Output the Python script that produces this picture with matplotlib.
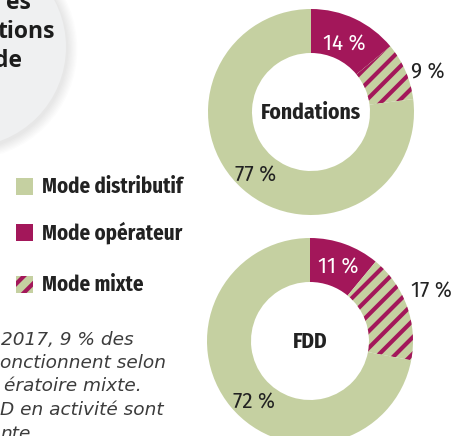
import matplotlib
matplotlib.use('Agg')
import matplotlib.pyplot as plt
from matplotlib.patches import Circle, Rectangle

W, H = 461, 436

# data
modes = ['Mode opérateur', 'Mode mixte', 'Mode distributif']
fondations = [14, 9, 77]
fdd = [11, 17, 72]
donut_names = ['Fondations', 'FDD']
title_bits = ['es', 'tions', 'de']
note_lines = ['2017, 9 % des', 'onctionnent selon', 'ératoire mixte.',
              'D en activité sont', 'nte.']

GREEN = '#c5d0a1'
PURPLE = '#a3175a'
DARK = '#222222'
COND = ['Fira Sans Condensed', 'DejaVu Sans']
SANS = ['Open Sans', 'DejaVu Sans']

plt.rcParams['hatch.linewidth'] = 3.0

fig = plt.figure(figsize=(W / 100, H / 100), dpi=100)
ax = fig.add_axes([0, 0, 1, 1])


def Y(py):
    return H - py


# grey title circle with soft shadow
cx, cy, cr = -34, Y(47), 100
for i in range(8, 0, -1):
    ax.add_patch(Circle((cx + 1, cy - 2), cr + i * 1.3, color='#000000',
                        alpha=0.012, lw=0, zorder=1))
ax.add_patch(Circle((cx, cy), cr, color='#eff0f1', lw=0, zorder=2))

title_pos = [(31, 9), (55, 38), (22, 67)]
for t, (px, py) in zip(title_bits, title_pos):
    ax.text(px, Y(py), t, ha='right', va='baseline', fontsize=16.5,
            fontweight='bold', family=SANS, color='#1c1c1c', zorder=3)


def donut(vals, center, name, lab_pos):
    wedges, _ = ax.pie(vals, colors=[PURPLE, GREEN, GREEN], startangle=90,
                       counterclock=False, center=center, radius=103,
                       wedgeprops=dict(width=44, lw=0))
    wedges[1].set_hatch('//')
    wedges[1].set_edgecolor(PURPLE)
    wedges[1].set_linewidth(0)
    ax.text(center[0], center[1] - 1, name, ha='center', va='center',
            fontsize=15.5, fontweight='bold', family=COND, color=DARK)
    cols = ['white', DARK, DARK]
    for v, (px, py), c in zip(vals, lab_pos, cols):
        ax.text(px, Y(py), '%d %%' % v, ha='center', va='center',
                fontsize=16.5, fontweight='normal', family=COND, color=c)


donut(fondations, (311, Y(112)), donut_names[0],
      [(344, 43), (428, 72), (256, 174)])
donut(fdd, (310, Y(341)), donut_names[1],
      [(338, 266), (431, 290), (254, 401)])

# legend
leg_y = [187, 233, 285]
leg_items = ['Mode distributif', 'Mode opérateur', 'Mode mixte']
leg_face = [GREEN, PURPLE, GREEN]
for lbl, fc, py in zip(leg_items, leg_face, leg_y):
    r = Rectangle((16, Y(py + 8)), 17, 17, facecolor=fc, lw=0, zorder=3)
    if lbl == 'Mode mixte':
        r.set_hatch('//')
        r.set_edgecolor(PURPLE)
    ax.add_patch(r)
    ax.text(42, Y(py), lbl, ha='left', va='center', fontsize=15,
            fontweight='bold', family=COND, color=DARK)

# note text
note_pos = [(1, 345), (0, 368), (4, 391), (0, 415), (0, 439)]
for t, (px, py) in zip(note_lines, note_pos):
    ax.text(px, Y(py), t, ha='left', va='baseline', fontsize=13.3,
            style='italic', family='DejaVu Sans', color='#3c3c3c')

ax.set_xlim(0, W)
ax.set_ylim(0, H)
ax.set_aspect('equal')
ax.axis('off')

fig.savefig('out.png', dpi=100)
